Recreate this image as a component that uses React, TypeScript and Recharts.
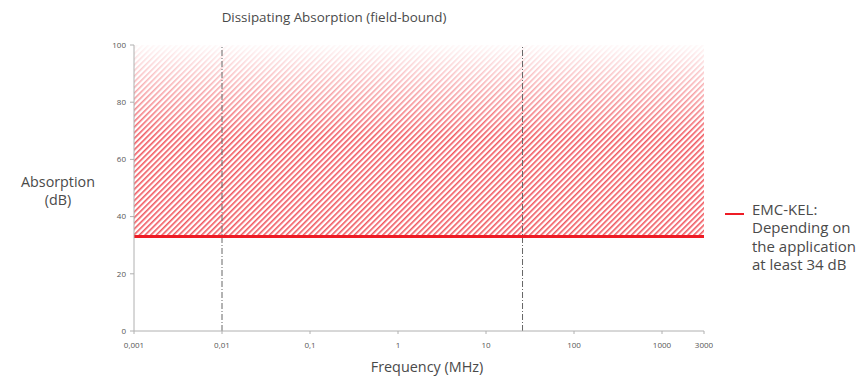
import React from 'react';
import { ComposedChart, Line, XAxis, YAxis, ReferenceArea, ReferenceLine } from 'recharts';

const xTicks = [0.001, 0.01, 0.1, 1, 10, 100, 1000, 3000];
const yTicks = [0, 20, 40, 60, 80, 100];
const minLevel = 33; // EMC-KEL line (dB)
const lineData = [
  { f: 0.001, db: minLevel },
  { f: 3000, db: minLevel },
];
const markers = [0.01, 26];
const legendLines = ['EMC-KEL:', 'Depending on', 'the application', 'at least 34 dB'];

const RED = '#ee1c25';
const TXT = '#4a4a4a';
const FONT = '"Open Sans", sans-serif';

const fmt = (v: number) => String(v).replace('.', ',');

export default function App() {
  return (
    <div style={{ position: 'absolute', left: 0, top: 0, width: 858, height: 378, background: '#fff', fontFamily: FONT }}>
      <ComposedChart width={858} height={378} data={lineData} margin={{ top: 45, right: 154, bottom: 17, left: 104 }}>
        <defs>
          <pattern id="hatch" patternUnits="userSpaceOnUse" width="4" height="4" patternTransform="rotate(45)">
            <rect x="0" y="0" width="1.6" height="4" fill="#f0464e" fillOpacity="0.9" />
          </pattern>
          <linearGradient id="fade" x1="0" y1="0" x2="0" y2="1">
            <stop offset="0" stopColor="#fff" stopOpacity="0.96" />
            <stop offset="1" stopColor="#fff" stopOpacity="0" />
          </linearGradient>
        </defs>
        <XAxis
          dataKey="f"
          type="number"
          scale="log"
          domain={[0.001, 3000]}
          ticks={xTicks}
          tickFormatter={fmt}
          allowDataOverflow
          height={30}
          stroke="#b0b0b0"
          tickSize={3}
          tick={{ fontSize: 8, fill: '#555', fontFamily: FONT }}
          tickMargin={8}
        />
        <YAxis
          type="number"
          domain={[0, 100]}
          ticks={yTicks}
          width={30}
          stroke="#b0b0b0"
          tickSize={4}
          tick={{ fontSize: 8, fill: '#555', fontFamily: FONT }}
          tickMargin={4}
        />
        <ReferenceArea x1={0.001} x2={3000} y1={minLevel} y2={100} fill="url(#hatch)" fillOpacity={1} stroke="none" ifOverflow="hidden" />
        {markers.map((m) => (
          <ReferenceLine key={m} x={m} stroke="#666" strokeWidth={1} strokeDasharray="6 2 1 2" />
        ))}
        <ReferenceArea x1={0.001} x2={3000} y1={68} y2={100} fill="url(#fade)" fillOpacity={1} stroke="none" />
        <Line dataKey="db" stroke={RED} strokeWidth={3} dot={false} isAnimationActive={false} />
      </ComposedChart>

      <div style={{ position: 'absolute', left: 0, width: 668, top: 8, textAlign: 'center', fontSize: 13.4, color: TXT }}>
        Dissipating Absorption (field-bound)
      </div>
      <div style={{ position: 'absolute', left: 0, width: 116, top: 173, textAlign: 'center', fontSize: 14.3, color: TXT, lineHeight: '18px' }}>
        Absorption<br />(dB)
      </div>
      <div style={{ position: 'absolute', left: 269, width: 316, top: 357, textAlign: 'center', fontSize: 14.4, color: TXT }}>
        Frequency (MHz)
      </div>
      <div style={{ position: 'absolute', left: 725, top: 213, width: 19, height: 2, background: RED }} />
      <div style={{ position: 'absolute', left: 752, top: 200, fontSize: 15, color: TXT, lineHeight: '18.3px' }}>
        {legendLines.map((l) => (
          <div key={l}>{l}</div>
        ))}
      </div>
    </div>
  );
}
